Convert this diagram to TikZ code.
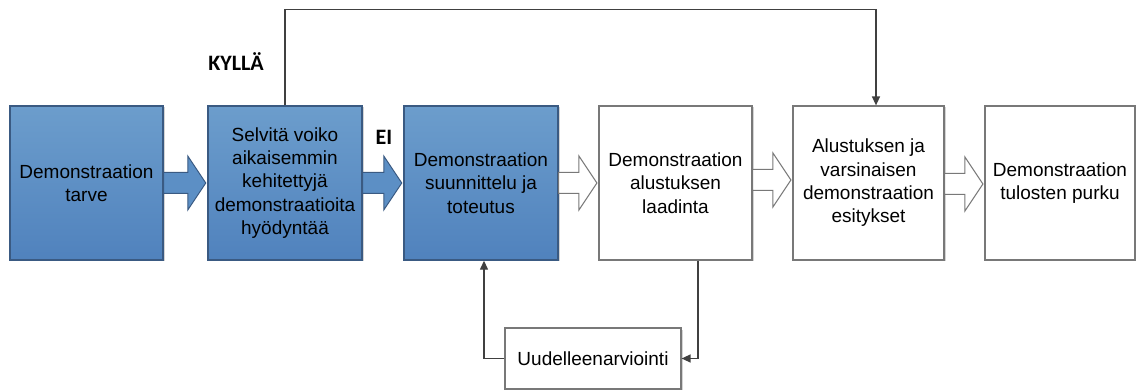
\documentclass[tikz,border=0pt]{standalone}
\usepackage{fontspec}
\setmainfont{Liberation Sans}
\newfontfamily\labelfont{Carlito}
\usetikzlibrary{arrows.meta,calc,shadows}

\definecolor{bluetop}{RGB}{108,157,204}
\definecolor{bluebot}{RGB}{80,130,189}
\definecolor{bluemid}{RGB}{92,143,197}
\definecolor{blueedge}{RGB}{58,90,130}
\definecolor{greyedge}{RGB}{120,120,120}
\definecolor{connector}{RGB}{64,64,64}

\tikzset{
  boxshadow/.style={drop shadow={shadow xshift=1.5pt,shadow yshift=-1.5pt,opacity=0.28,fill=black!60}},
  bluebox/.style={draw=blueedge,line width=1.4pt,top color=bluetop,bottom color=bluebot,
    minimum height=154pt,align=center,font=\fontsize{19}{23.3}\selectfont,boxshadow},
  whitebox/.style={draw=greyedge,line width=1.2pt,fill=white,
    minimum height=154pt,align=center,font=\fontsize{19}{23.3}\selectfont,boxshadow},
  bluearrow/.style={draw=blueedge,line width=1pt,fill=bluemid,line join=miter},
  whitearrow/.style={draw=greyedge,line width=1pt,fill=white,line join=miter},
  conn/.style={draw=connector,line width=1.3pt,-{Triangle[length=9pt,width=8pt]}},
  answer/.style={font=\labelfont\bfseries\fontsize{22}{24}\selectfont,anchor=base,inner sep=0pt},
}

% block arrow from the east side of #1 to the west side of #2, raised by #3
\newcommand{\blockarrow}[4]{%
  \draw[#4] let \p1=(#1.east), \p2=(#2.west) in
    (\x1,\y1+10.5pt+#3) -- (\x2-19.5pt,\y1+10.5pt+#3) -- (\x2-19.5pt,\y1+27pt+#3)
    -- (\x2-1.5pt,\y1+#3) -- (\x2-19.5pt,\y1-27pt+#3) -- (\x2-19.5pt,\y1-10.5pt+#3)
    -- (\x1,\y1-10.5pt+#3) -- cycle;}

\begin{document}
\begin{tikzpicture}[x=1pt,y=-1pt]
\useasboundingbox (0,0) rectangle (1136,390);

\node[bluebox,minimum width=153pt] (b1) at (86.5,183) {Demonstraation\\tarve};
\node[bluebox,minimum width=154pt] (b2) at (285,183) {Selvitä voiko\\aikaisemmin\\kehitettyjä\\demonstraatioita\\hyödyntää};
\node[bluebox,minimum width=154pt] (b3) at (481,183) {Demonstraation\\suunnittelu ja\\toteutus};
\node[whitebox,minimum width=153pt] (b4) at (675.5,183) {Demonstraation\\alustuksen\\laadinta};
\node[whitebox,minimum width=151pt] (b5) at (868.5,183) {Alustuksen ja\\varsinaisen\\demonstraation\\esitykset};
\node[whitebox,minimum width=150pt] (b6) at (1060,183) {Demonstraation\\tulosten purku};
\node[whitebox,minimum width=176pt,minimum height=61pt] (ru) at (593,358.5) {Uudelleenarviointi};

\blockarrow{b1}{b2}{0pt}{bluearrow}
\blockarrow{b2}{b3}{0pt}{bluearrow}
\blockarrow{b3}{b4}{0pt}{whitearrow}
\blockarrow{b4}{b5}{3pt}{whitearrow}
\blockarrow{b5}{b6}{-1pt}{whitearrow}

\draw[conn] (b2.north) -- ++(0,-96) -| ([xshift=7.5pt]b5.north);
\draw[conn] ([xshift=22.5pt]b4.south) |- (ru.east);
\draw[conn] (ru.west) -| ([xshift=3pt]b3.south);

\node[answer] (yes) at (236,71) {KYLLÄ};
\node[answer] (no) at (384,145) {EI};
\end{tikzpicture}
\end{document}
